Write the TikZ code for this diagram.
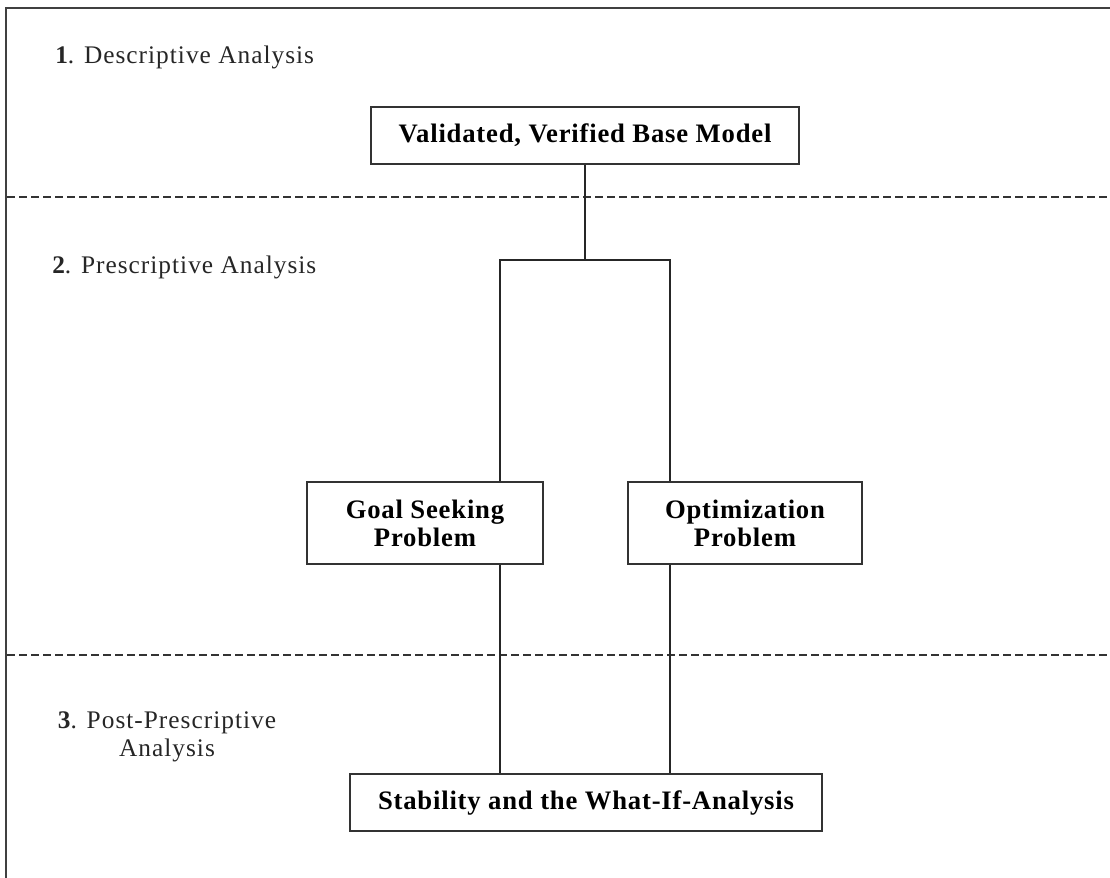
\documentclass[tikz,border=0pt]{standalone}
\usepackage{fontspec}
\setmainfont{Liberation Serif}
\newfontfamily\phasefont[LetterSpace=4]{Liberation Serif}
\newfontfamily\boxfont[LetterSpace=3]{Liberation Serif}
\begin{document}
\begin{tikzpicture}[x=0.75pt,y=-0.75pt,
  box/.style={draw=black!80,line width=1.2pt,fill=white,inner sep=0pt,
    font=\boxfont\fontsize{20}{21}\selectfont\bfseries,align=center},
  phase/.style={anchor=base west,inner sep=0pt,text=black!85,
    font=\phasefont\fontsize{19}{21}\selectfont,align=center},
  link/.style={draw=black!85,line width=1.2pt},
  divider/.style={draw=black!80,line width=0.9pt,dash pattern=on 6pt off 3pt}]
\useasboundingbox (0,0) rectangle (1110,878);
% outer frame (open on the right and at the bottom)
\draw[black!75,line width=1.6pt] (6,878) -- (6,8) -- (1110,8);
% stage dividers
\draw[divider] (7,197) -- (1110,197);
\draw[divider] (7,655) -- (1110,655);
% stage labels
\node[phase] (p1) at (55,63) {\textbf{1}. Descriptive Analysis};
\node[phase] (p2) at (52,273) {\textbf{2}. Prescriptive Analysis};
\node[phase,anchor=north] (p3) at (167,711) {\textbf{3}. Post-Prescriptive\\Analysis};
% model boxes
\node[box,minimum width=428*0.75pt,minimum height=57*0.75pt] (base) at (585,135.5) {Validated, Verified Base Model};
\node[box,minimum width=236*0.75pt,minimum height=82*0.75pt] (goal) at (425,523) {Goal Seeking\\Problem};
\node[box,minimum width=234*0.75pt,minimum height=82*0.75pt] (opt) at (745,523) {Optimization\\Problem};
\node[box,minimum width=472*0.75pt,minimum height=57*0.75pt] (stab) at (586,802.5) {Stability and the What-If-Analysis};
% connectors
\coordinate (fork) at (585,260);
\draw[link] (base.south) -- (fork);
\draw[link] (goal.north -| 500,0) |- (fork) -| (opt.north -| 670,0);
\draw[link] (goal.south -| 500,0) -- (stab.north -| 500,0);
\draw[link] (opt.south -| 670,0) -- (stab.north -| 670,0);
\end{tikzpicture}
\end{document}
